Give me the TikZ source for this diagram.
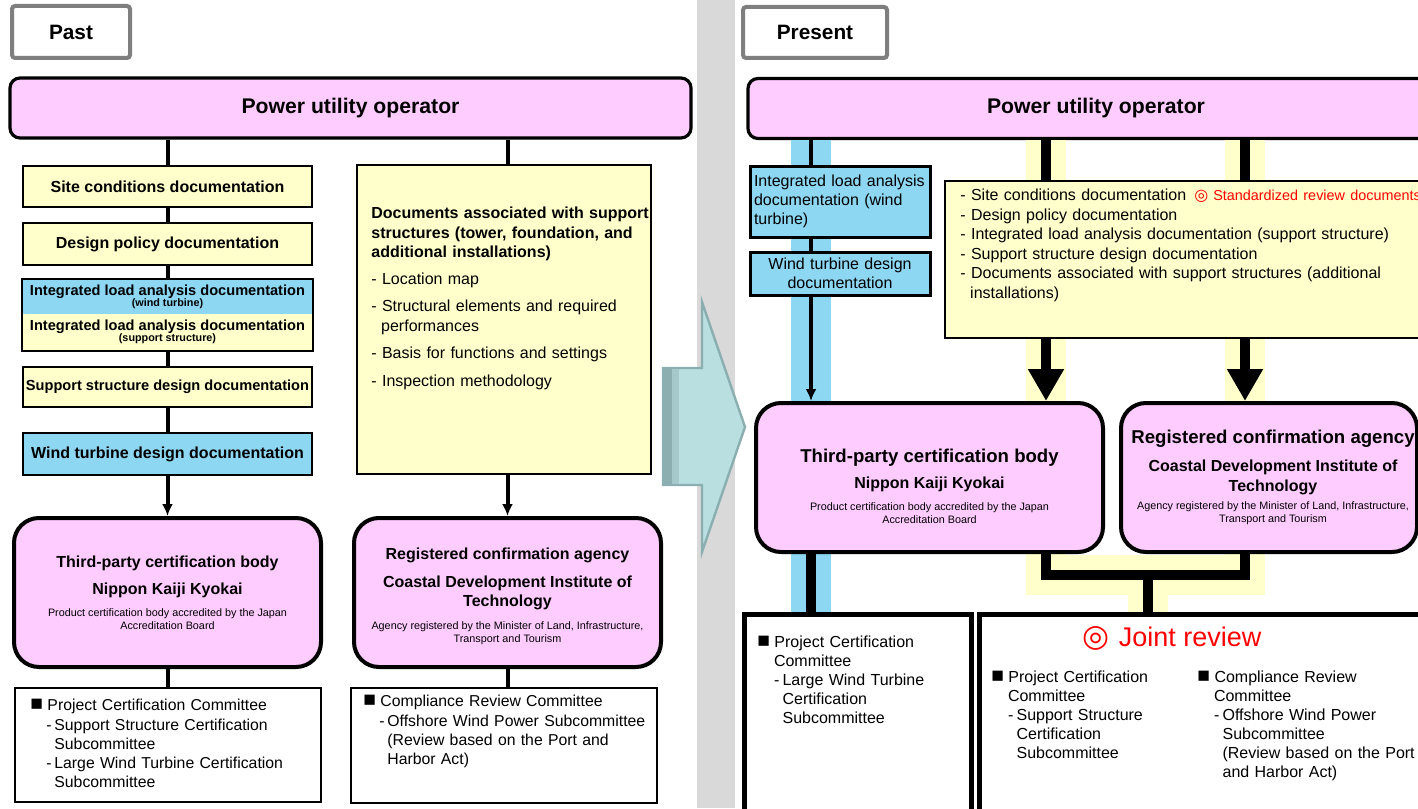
\documentclass[tikz,border=0pt]{standalone}
\usepackage{fontspec}
\setmainfont{Liberation Sans}
\newfontfamily\symfont{DejaVu Sans}
\usetikzlibrary{arrows.meta}

\definecolor{pinkbox}{HTML}{FFCCFF}
\definecolor{docyellow}{HTML}{FFFFCC}
\definecolor{turbblue}{HTML}{8DD7F3}
\definecolor{sepgray}{HTML}{D9D9D9}
\definecolor{taggray}{HTML}{7F7F7F}
\definecolor{arrowfill}{HTML}{B9DFE1}
\definecolor{arrowline}{HTML}{8BAFB1}
\definecolor{arrowdark}{HTML}{8DAEB0}
\definecolor{arrowmid}{HTML}{A5C8CA}
\newcommand{\fsz}[2]{\fontsize{#1}{#2}\selectfont}
\newcommand{\agsmall}{\mdseries\fsz{5.4}{6.5}}
\newcommand{\agtitle}{\bfseries\fsz{9.3}{6.5}}
\newcommand{\cmtbullet}{{\fsz{10.5}{9}■}\hspace{2.2pt}}
\setlength{\lineskiplimit}{-20pt}

\tikzset{
  tagbox/.style={draw=taggray, line width=2pt, fill=white, rounded corners=1.5pt, font=\bfseries\fsz{10.4}{12}},
  pwrbox/.style={draw, line width=1.6pt, fill=pinkbox, rounded corners=5pt, minimum height=30pt, font=\bfseries\fsz{10.6}{12}},
  docbox/.style={draw, line width=1.2pt, fill=docyellow, minimum width=144.5pt, inner sep=0pt, font=\bfseries\fsz{8}{9.6}},
  bluebox/.style={draw, line width=1.5pt, fill=turbblue, text width=86pt, inner xsep=2pt, inner ysep=0pt, font=\fsz{8}{9.5}},
  agencybox/.style={draw, line width=2pt, fill=pinkbox, rounded corners=12.5pt, minimum height=74.5pt},
  agencytext/.style={align=center, inner sep=0pt, font=\bfseries\fsz{8}{6.5}},
  cmtbox/.style={draw, line width=1pt, fill=white},
  cmtboxR/.style={draw, line width=2.5pt, fill=white, minimum height=103pt},
  cmttext/.style={anchor=north west, align=left, inner sep=0pt, text width=150pt, font=\fsz{7.9}{9.6}},
  lnk/.style={line width=2pt},
  arr/.style={line width=2pt, -{Latex[length=6pt, width=5.5pt]}},
  bold/.style={line width=5pt},
  boldarr/.style={line width=5pt, -{Triangle[length=16pt, width=17pt]}},
  bluehl/.style={line width=20pt, turbblue},
  yellowhl/.style={line width=20pt, docyellow},
}

\begin{document}
\begin{tikzpicture}[x=0.5pt, y=-0.5pt]
  \useasboundingbox (0,0) rectangle (1418,808);

  % separator band and transition arrow
  \fill[sepgray] (697,0) rectangle (735,808);
  \filldraw[fill=arrowfill, draw=arrowline, line width=1.2pt] (663,368) -- (702,368) -- (702,302) -- (745,427) -- (702,552) -- (702,485) -- (663,485) -- cycle;
  \fill[arrowdark] (664,369) rectangle (672,484);
  \fill[arrowmid] (672,369) rectangle (679,484);

  % ---------- Past ----------
  \node[tagbox, minimum width=59pt, minimum height=26pt] (past) at (71,32) {Past};
  \node[pwrbox, minimum width=340.5pt] (pwrL) at (350.5,108) {Power utility operator};

  % document chain
  \node[docbox, minimum height=20.5pt] (siteL) at (167.5,186.5) {Site conditions documentation};
  \node[docbox, minimum height=21pt] (designL) at (167.5,244) {Design policy documentation};
  \node[docbox, draw=none, fill=turbblue, minimum height=17pt, align=center, font=\bfseries\fsz{7.3}{5.5}] (ilaWT) at (167.5,297)
    {Integrated load analysis documentation\\\fsz{5.4}{5.5}(wind turbine)};
  \node[docbox, draw=none, minimum height=18pt, align=center, font=\bfseries\fsz{7.3}{5.5}] (ilaSS) at (167.5,332)
    {Integrated load analysis documentation\\\fsz{5.4}{5.5}(support structure)};
  \draw[line width=1.2pt] (ilaWT.north west) rectangle (ilaSS.south east);
  \node[docbox, minimum height=20pt, font=\bfseries\fsz{7.3}{9}] (supportL) at (167.5,387) {Support structure design documentation};
  \node[docbox, fill=turbblue, minimum height=21pt] (windL) at (167.5,454) {Wind turbine design documentation};

  % support structure documents
  \node[docbox, minimum width=147pt, minimum height=154.5pt] (docsL) at (504,319.5) {};
  \node[anchor=north west, align=left, inner sep=0pt, text width=142pt, font=\fsz{8}{9.75}] (docsLtxt) at (371,207)
    {\textbf{Documents associated with support}\\
     \textbf{structures (tower, foundation, and}\\
     \textbf{additional installations)}\\[3.5pt]
     - Location map\\[4pt]
     - Structural elements and required\\
     \hspace*{4.9pt}performances\\[4pt]
     - Basis for functions and settings\\[4pt]
     - Inspection methodology};

  % reviewing bodies
  \node[agencybox, minimum width=153.5pt] (tpcL) at (167.5,592.5) {};
  \node[agencytext] (tpcLtxt) at (tpcL.center)
    {Third-party certification body\\[7pt]
     Nippon Kaiji Kyokai\\[4.5pt]
     \agsmall Product certification body accredited by the Japan\\
     \agsmall Accreditation Board};
  \node[agencybox, minimum width=153.5pt] (rcaL) at (507.5,592.5) {};
  \node[agencytext] (rcaLtxt) at ([yshift=-2pt]rcaL.center)
    {Registered confirmation agency\\[7.5pt]
     Coastal Development Institute of\\[3pt]
     Technology\\[4.8pt]
     \agsmall Agency registered by the Minister of Land, Infrastructure,\\
     \agsmall Transport and Tourism};

  % committees
  \node[cmtbox, minimum width=153pt, minimum height=57pt] (pccL) at (167.5,745) {};
  \node[cmttext] (pccLtxt) at (30,699)
    {\cmtbullet Project Certification Committee\\
     \hspace*{8pt}\makebox[4pt][l]{-}Support Structure Certification\\
     \hspace*{12pt}Subcommittee\\
     \hspace*{8pt}\makebox[4pt][l]{-}Large Wind Turbine Certification\\
     \hspace*{12pt}Subcommittee};
  \node[cmtbox, minimum width=153pt, minimum height=57.5pt] (crcL) at (504,745.5) {};
  \node[cmttext] (crcLtxt) at (363,695)
    {\cmtbullet Compliance Review Committee\\
     \hspace*{8pt}\makebox[4pt][l]{-}Offshore Wind Power Subcommittee\\
     \hspace*{12pt}(Review based on the Port and\\
     \hspace*{12pt}Harbor Act)};

  % past connectors
  \draw[lnk] (pwrL.south -| siteL) -- (siteL);
  \draw[lnk] (siteL) -- (designL);
  \draw[lnk] (designL) -- (ilaWT);
  \draw[lnk] (ilaSS) -- (supportL);
  \draw[lnk] (supportL) -- (windL);
  \draw[arr] (windL) -- (tpcL);
  \draw[lnk] (tpcL) -- (pccL);
  \draw[lnk] (pwrL.south -| rcaL) -- (docsL.north -| rcaL);
  \draw[arr] (docsL.south -| rcaL) -- (rcaL);
  \draw[lnk] (rcaL.south) -- (rcaL.south |- crcL.north);

  % ---------- Present ----------
  \node[tagbox, minimum width=72pt, minimum height=25.5pt] (present) at (815,32.5) {Present};
  \node[pwrbox, minimum width=348pt] (pwrR) at (1096,108.5) {Power utility operator};

  \coordinate (colB) at (811,0);
  \coordinate (colY1) at (1046,0);
  \coordinate (colY2) at (1245,0);
  \coordinate (colJ) at (1148,0);
  \coordinate (rowJ) at (0,575);
  \coordinate (rowC) at (0,614);

  % highlight bands
  \draw[bluehl] (pwrR.south -| colB) -- (colB |- rowC);
  \draw[yellowhl] (pwrR.south -| colY1) -- (colY1 |- rowJ) -- (colY2 |- rowJ) -- (pwrR.south -| colY2);
  \draw[yellowhl] (colJ |- rowJ) -- (colJ |- rowC);

  % wind turbine documents
  \node[bluebox, align=left, minimum height=35.5pt] (ilaR) at (840,201.5)
    {Integrated load analysis\\ documentation (wind\\ turbine)};
  \node[bluebox, align=center, minimum height=21.5pt] (windR) at (840,273.5)
    {Wind turbine design\\ documentation};

  % standardized documents
  \node[draw, line width=1.2pt, fill=docyellow, minimum width=242.5pt, minimum height=78.5pt] (stdR) at (1187.5,259.5) {};
  \node[anchor=north west, align=left, inner sep=0pt, text width=260pt, font=\fsz{8}{9.75}] (stdRtxt) at (960,189)
    {- Site conditions documentation\hspace{4pt}{\color{red}\fsz{7.2}{9.75}{\symfont\fsz{8}{9.75}◎}\hspace{2.5pt}Standardized review documents}\\
     - Design policy documentation\\
     - Integrated load analysis documentation (support structure)\\
     - Support structure design documentation\\
     - Documents associated with support structures (additional\\
     \hspace*{4.9pt}installations)};

  % reviewing bodies
  \node[agencybox, minimum width=173.5pt] (tpcR) at (929.5,477.5) {};
  \node[agencytext] (tpcRtxt) at ([yshift=-4.5pt]tpcR.center)
    {\agtitle Third-party certification body\\[6.7pt]
     Nippon Kaiji Kyokai\\[4.5pt]
     \agsmall Product certification body accredited by the Japan\\
     \agsmall Accreditation Board};
  \node[agencybox, minimum width=148pt] (rcaR) at (1269,477.5) {};
  \node[agencytext] (rcaRtxt) at ([xshift=2pt]rcaR.center)
    {\agtitle Registered confirmation agency\\[7.5pt]
     Coastal Development Institute of\\[3.3pt]
     Technology\\[2.6pt]
     \agsmall Agency registered by the Minister of Land, Infrastructure,\\
     \agsmall Transport and Tourism};

  % committees
  \node[cmtboxR, minimum width=113.5pt] (pccR) at (857.5,717) {};
  \node[cmttext, font=\fsz{8}{9.5}] (pccRtxt) at (757,635)
    {\cmtbullet Project Certification\\
     \hspace*{8.3pt}Committee\\
     \hspace*{8.3pt}\makebox[4.3pt][l]{-}Large Wind Turbine\\
     \hspace*{12.6pt}Certification\\
     \hspace*{12.6pt}Subcommittee};
  \node[cmtboxR, minimum width=225.5pt] (jointR) at (1204.5,717) {};
  \node[text=red, font=\fsz{13.5}{16}] (jointTitle) at (1172,638) {{\symfont\fsz{15.5}{16}◎}\hspace{4.5pt}Joint review};
  \node[cmttext, font=\fsz{8}{9.5}] (jointLtxt) at (991,670)
    {\cmtbullet Project Certification\\
     \hspace*{8.3pt}Committee\\
     \hspace*{8.3pt}\makebox[4.3pt][l]{-}Support Structure\\
     \hspace*{12.6pt}Certification\\
     \hspace*{12.6pt}Subcommittee};
  \node[cmttext, font=\fsz{8}{9.5}] (jointRtxt) at (1197,670)
    {\cmtbullet Compliance Review\\
     \hspace*{8.3pt}Committee\\
     \hspace*{8.3pt}\makebox[4.3pt][l]{-}Offshore Wind Power\\
     \hspace*{12.6pt}Subcommittee\\
     \hspace*{12.6pt}(Review based on the Port\\
     \hspace*{12.6pt}and Harbor Act)};

  % present connectors
  \draw[lnk] (pwrR.south -| colB) -- (ilaR.north -| colB);
  \draw[lnk] (ilaR.south -| colB) -- (windR.north -| colB);
  \draw[arr] (windR.south -| colB) -- (tpcR.north -| colB);
  \draw[bold] (tpcR.south -| colB) -- (pccR.north -| colB);
  \draw[bold] (pwrR.south -| colY1) -- (stdR.north -| colY1);
  \draw[bold] (pwrR.south -| colY2) -- (stdR.north -| colY2);
  \draw[boldarr] (stdR.south -| colY1) -- (tpcR.north -| colY1);
  \draw[boldarr] (stdR.south -| colY2) -- (rcaR.north -| colY2);
  \draw[bold] (tpcR.south -| colY1) -- (colY1 |- rowJ) -- (colY2 |- rowJ) -- (rcaR.south -| colY2);
  \draw[bold] (colJ |- rowJ) -- (jointR.north -| colJ);
\end{tikzpicture}
\end{document}
